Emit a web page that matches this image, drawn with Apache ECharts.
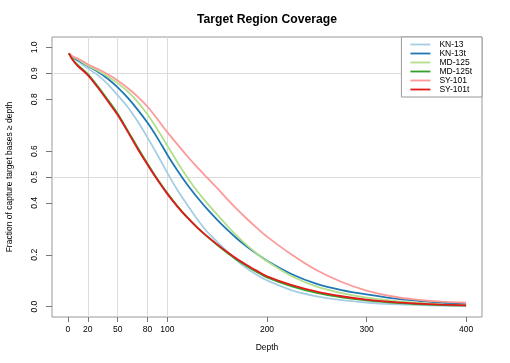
<!DOCTYPE html>
<html>
<head>
<meta charset="utf-8">
<script src="https://cdn.jsdelivr.net/npm/echarts@6/dist/echarts.min.js"></script>
<style>html,body{margin:0;padding:0;background:#fff}#c{width:510px;height:363px}</style>
</head>
<body>
<div id="c"></div>
<script>
var depths = [1, 5, 10, 20, 30, 40, 50, 60, 70, 80, 90, 100, 110, 120, 130, 140, 150, 160, 170, 180, 190, 200, 225, 250, 275, 300, 325, 350, 375, 400];
var seriesNames = ['KN-13', 'KN-13t', 'MD-125', 'MD-125t', 'SY-101', 'SY-101t'];
var kn13   = [0.977, 0.961, 0.947, 0.919, 0.893, 0.858, 0.815, 0.77, 0.715, 0.652, 0.585, 0.515, 0.45, 0.392, 0.337, 0.288, 0.25, 0.212, 0.177, 0.147, 0.122, 0.101, 0.063, 0.04, 0.025, 0.016, 0.01, 0.007, 0.004, 0.003];
var kn13t  = [0.977, 0.962, 0.950, 0.928, 0.906, 0.879, 0.846, 0.806, 0.76, 0.709, 0.65, 0.585, 0.525, 0.47, 0.421, 0.376, 0.335, 0.297, 0.262, 0.231, 0.203, 0.177, 0.125, 0.088, 0.064, 0.047, 0.033, 0.023, 0.015, 0.01];
var md125  = [0.977, 0.963, 0.954, 0.93, 0.91, 0.888, 0.862, 0.83, 0.79, 0.741, 0.683, 0.62, 0.557, 0.498, 0.445, 0.398, 0.355, 0.312, 0.272, 0.236, 0.204, 0.175, 0.117, 0.077, 0.052, 0.035, 0.023, 0.015, 0.009, 0.006];
var md125t = [0.977, 0.952, 0.931, 0.897, 0.85, 0.798, 0.744, 0.68, 0.614, 0.551, 0.491, 0.437, 0.388, 0.344, 0.305, 0.27, 0.238, 0.208, 0.18, 0.156, 0.133, 0.113, 0.078, 0.053, 0.036, 0.024, 0.016, 0.01, 0.006, 0.004];
var sy101  = [0.977, 0.965, 0.957, 0.935, 0.916, 0.896, 0.872, 0.843, 0.81, 0.771, 0.723, 0.672, 0.626, 0.58, 0.537, 0.497, 0.457, 0.415, 0.375, 0.338, 0.303, 0.27, 0.2, 0.14, 0.095, 0.062, 0.04, 0.027, 0.019, 0.015];
var sy101t = [0.977, 0.950, 0.928, 0.893, 0.845, 0.793, 0.739, 0.675, 0.609, 0.547, 0.488, 0.434, 0.386, 0.343, 0.305, 0.271, 0.24, 0.211, 0.184, 0.16, 0.138, 0.117, 0.083, 0.058, 0.04, 0.027, 0.018, 0.012, 0.008, 0.005];
var xTicks = [0, 20, 50, 80, 100, 200, 300, 400];
var yTicks = [0.0, 0.2, 0.4, 0.5, 0.6, 0.8, 0.9, 1.0];
var xGrid = [20, 50, 80, 100];
var yGrid = [0.5, 0.9];

var colors = ['#A6CEE3', '#1F78B4', '#B2DF8A', '#33A02C', '#FB9A99', '#E31A1C'];
var values = [kn13, kn13t, md125, md125t, sy101, sy101t];
var font = 'Liberation Sans, Arial, Helvetica, sans-serif';

function pairs(v) { return depths.map(function (d, i) { return [d, v[i]]; }); }

var series = [{
  name: 'grid', type: 'line', data: [], z: 1, silent: true,
  markLine: {
    silent: true, symbol: 'none', label: { show: false }, z: 1,
    lineStyle: { color: '#dcdcdc', type: 'solid', width: 1 },
    data: xGrid.map(function (x) { return { xAxis: x }; })
      .concat(yGrid.map(function (y) { return { yAxis: y }; }))
  }
}];
seriesNames.forEach(function (n, i) {
  series.push({
    name: n, type: 'line', data: pairs(values[i]), showSymbol: false,
    smooth: 0.3, z: 2 + i,
    lineStyle: { color: colors[i], width: 1.8 }, itemStyle: { color: colors[i] }
  });
});

var chart = echarts.init(document.getElementById('c'), null, { renderer: 'canvas' });
chart.setOption({
  animation: false,
  backgroundColor: '#fff',
  textStyle: { fontFamily: font },
  title: {
    text: 'Target Region Coverage', left: 197, top: 14, padding: 0,
    textStyle: { fontFamily: font, fontSize: 12.2, fontWeight: 'bold', color: '#000' }
  },
  legend: {
    data: seriesNames, orient: 'vertical', right: 28, top: 37, z: 20,
    backgroundColor: '#fff', borderColor: '#999', borderWidth: 1, borderRadius: 0,
    padding: [3, 10, 3, 9], itemGap: 0, itemWidth: 20, itemHeight: 9, symbolKeepAspect: true,
    icon: 'path://M0,0 L20,0 L20,1.8 L0,1.8 Z',
    textStyle: { fontFamily: font, fontSize: 8.5, lineHeight: 9, color: '#000', padding: [0, 0, 0, 4] }
  },
  grid: {
    left: 52, right: 28, top: 37, bottom: 46, show: true, containLabel: false, outerBoundsMode: 'none',
    borderColor: '#999', borderWidth: 1, backgroundColor: 'transparent'
  },
  xAxis: {
    type: 'value', min: -16, max: 416,
    name: 'Depth', nameLocation: 'middle', nameGap: 26,
    nameTextStyle: { fontFamily: font, fontSize: 8.5, color: '#000' },
    axisLine: { show: false, onZero: false },
    splitLine: { show: false },
    axisTick: { show: true, customValues: xTicks, length: 5, lineStyle: { color: '#777' } },
    axisLabel: { customValues: xTicks, fontFamily: font, fontSize: 8.5, color: '#000', margin: 8 }
  },
  yAxis: {
    type: 'value', min: -0.04, max: 1.04,
    name: 'Fraction of capture target bases \u2265 depth', nameLocation: 'middle', nameGap: 38, nameRotate: 90,
    nameTextStyle: { fontFamily: font, fontSize: 8.5, color: '#000' },
    axisLine: { show: false, onZero: false },
    splitLine: { show: false },
    axisTick: { show: true, customValues: yTicks, length: 6, lineStyle: { color: '#777' } },
    axisLabel: {
      customValues: yTicks, rotate: 90, fontFamily: font, fontSize: 8.5, color: '#000', margin: 13,
      formatter: function (v) { return Number(v).toFixed(1); }
    }
  },
  series: series
});
</script>
</body>
</html>
